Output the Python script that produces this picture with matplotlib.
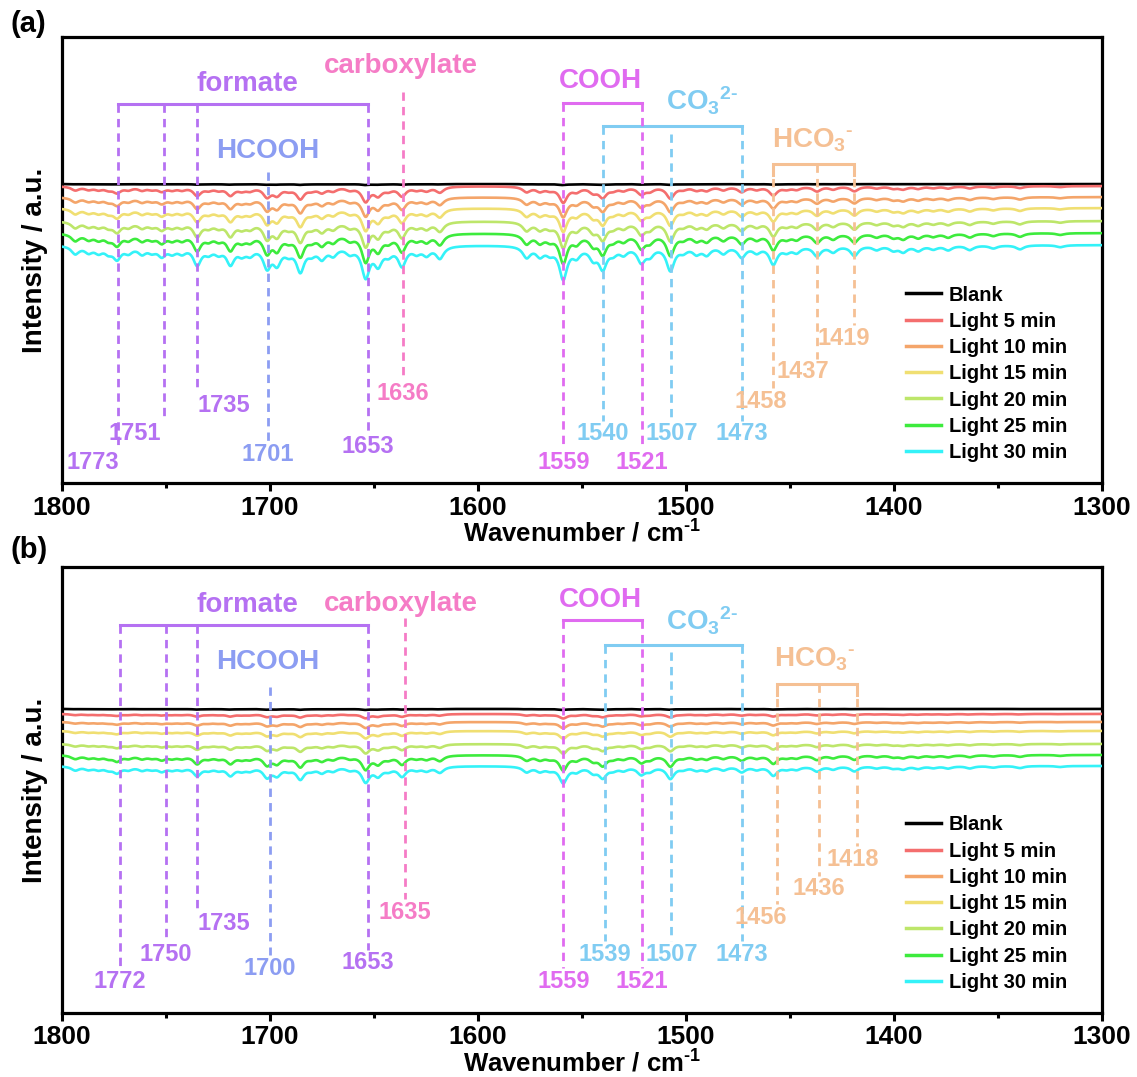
import numpy as np
import matplotlib.pyplot as plt
from matplotlib.ticker import MultipleLocator

plt.rcParams['font.family'] = ['Liberation Sans', 'DejaVu Sans']
plt.rcParams['font.weight'] = 'bold'
plt.rcParams['axes.labelweight'] = 'bold'
plt.rcParams['mathtext.fontset'] = 'custom'
plt.rcParams['mathtext.rm'] = 'Liberation Sans:bold'
plt.rcParams['mathtext.it'] = 'Liberation Sans:bold'
plt.rcParams['mathtext.bf'] = 'Liberation Sans:bold'

series = ['Blank', 'Light 5 min', 'Light 10 min', 'Light 15 min',
          'Light 20 min', 'Light 25 min', 'Light 30 min']
series_colors = ['#000000', '#F46E6E', '#F4A56A', '#F0DF72',
                 '#BDE66A', '#3DEB3D', '#34F2F8']

peak_pos = [1793.6, 1787.2, 1782.4, 1777.6, 1773.5, 1768.0, 1761.5, 1756.7,
            1752.0, 1747.0, 1742.3, 1735.0, 1729.5, 1724.7, 1719.0, 1713.5,
            1709.5, 1701.4, 1696.6, 1691.0, 1685.4, 1680.0, 1675.0, 1669.6,
            1661.6, 1654.0, 1648.0, 1643.0, 1636.5, 1629.5, 1624.7, 1618.3,
            1576.6, 1570.2, 1565.4, 1559.0, 1552.6, 1544.6, 1540.0, 1535.0,
            1530.0, 1521.5, 1517.3, 1507.5, 1501.3, 1494.9, 1490.0, 1482.0,
            1473.2, 1466.0, 1458.0, 1451.6, 1446.8, 1437.0, 1429.2, 1419.0,
            1408.3, 1400.3, 1395.5, 1388.3, 1381.0, 1373.9, 1363.5, 1352.2,
            1339.4, 1320.0]
peak_depth = [0.08, 0.06, 0.06, 0.06, 0.12, 0.06, 0.07, 0.05,
              0.09, 0.06, 0.06, 0.18, 0.06, 0.06, 0.17, 0.07,
              0.07, 0.20, 0.16, 0.06, 0.24, 0.06, 0.11, 0.08,
              0.06, 0.30, 0.17, 0.07, 0.19, 0.06, 0.08, 0.12,
              0.11, 0.09, 0.06, 0.32, 0.09, 0.11, 0.21, 0.06,
              0.07, 0.15, 0.08, 0.24, 0.05, 0.07, 0.08, 0.07,
              0.11, 0.06, 0.18, 0.05, 0.06, 0.10, 0.06, 0.10,
              0.04, 0.045, 0.06, 0.05, 0.035, 0.045, 0.045, 0.03,
              0.04, 0.02]
peak_hwhm = 2.3

# how strongly each trace shows the dips, and its vertical offset below Blank
depth_a = [0.03, 0.48, 0.58, 0.68, 0.78, 0.88, 1.0]
offset_a = [0.0, 0.02, 0.13, 0.24, 0.37, 0.49, 0.61]
depth_b = [0.03, 0.13, 0.18, 0.22, 0.28, 0.45, 0.50]
offset_b = [0.0, 0.05, 0.13, 0.22, 0.35, 0.46, 0.57]

# assigned bands
bands_a = [1773, 1751, 1735, 1653, 1701, 1636, 1559, 1521, 1540, 1507, 1473, 1458, 1437, 1419]
bands_b = [1772, 1750, 1735, 1653, 1700, 1635, 1559, 1521, 1539, 1507, 1473, 1456, 1436, 1418]
band_group = ['formate', 'formate', 'formate', 'formate', 'HCOOH', 'carboxylate',
              'COOH', 'COOH', 'CO3', 'CO3', 'CO3', 'HCO3', 'HCO3', 'HCO3']

group_names = ['formate', 'carboxylate', 'HCOOH', 'COOH', 'CO3', 'HCO3']
group_text = ['formate', 'carboxylate', 'HCOOH', 'COOH',
              'CO$_3$$^{2\u2010}$', 'HCO$_3$$^{\u2010}$']
group_colors = {'formate': '#B571F2', 'carboxylate': '#F57CC6', 'HCOOH': '#8C9DF2',
                'COOH': '#E06BF0', 'CO3': '#80CCF2', 'HCO3': '#F5C094'}

# layout of the annotation (axes fraction / cm-1 shifts)
layout = {
    'a': dict(
        label_y=[0.047, 0.110, 0.173, 0.083, 0.065, 0.200, 0.047, 0.047,
                 0.110, 0.110, 0.110, 0.182, 0.249, 0.325],
        label_dx=[12, 14, -13, 0, 0, 0, 0, 0, 0, 0, 0, 6, 7, 5],
        line_top=[0.850, 0.850, 0.850, 0.850, 0.697, 0.877, 0.852, 0.852,
                  0.800, 0.783, 0.800, 0.715, 0.715, 0.715],
        group_x=[1711, 1637, 1701, 1541, 1492, 1439],
        group_y=[0.894, 0.935, 0.744, 0.902, 0.857, 0.768],
        bracket={'formate': (1773, 1653, 0.850), 'COOH': (1559, 1521, 0.852),
                 'CO3': (1540, 1473, 0.800), 'HCO3': (1458, 1419, 0.715)},
    ),
    'b': dict(
        label_y=[0.070, 0.132, 0.200, 0.112, 0.099, 0.226, 0.070, 0.070,
                 0.132, 0.132, 0.132, 0.215, 0.278, 0.345],
        label_dx=[0, 0, -13, 0, 0, 0, 0, 0, 0, 0, 0, 8, 0, 2],
        line_top=[0.870, 0.870, 0.870, 0.870, 0.730, 0.885, 0.881, 0.881,
                  0.825, 0.810, 0.825, 0.738, 0.738, 0.738],
        group_x=[1711, 1637, 1701, 1541, 1492, 1438],
        group_y=[0.915, 0.918, 0.787, 0.925, 0.878, 0.792],
        bracket={'formate': (1772, 1653, 0.870), 'COOH': (1559, 1521, 0.881),
                 'CO3': (1539, 1473, 0.825), 'HCO3': (1456, 1418, 0.738)},
    ),
}

wn = np.arange(1300, 1800.01, 0.25)
dips = np.zeros_like(wn)
for c, d in zip(peak_pos, peak_depth):
    dips -= d * peak_hwhm**2 / ((wn - c)**2 + peak_hwhm**2)

fig = plt.figure(figsize=(11.37, 10.77), dpi=100)
ax_a = fig.add_axes([0.0545, 0.5515, 0.9147, 0.4141])
ax_b = fig.add_axes([0.0545, 0.0595, 0.9147, 0.4141])


def draw_panel(ax, key, depth, offset, bands, ylim):
    lay = layout[key]
    for name, col, k, off in zip(series, series_colors, depth, offset):
        ax.plot(wn, k * dips - off, color=col, lw=1.9, label=name, zorder=3)
    ax.set_xlim(1800, 1300)
    ax.set_ylim(*ylim)
    tr = ax.get_xaxis_transform()
    for i, (b, g) in enumerate(zip(bands, band_group)):
        col = group_colors[g]
        ax.plot([b, b], [lay['line_top'][i], lay['label_y'][i] + 0.03], transform=tr,
                color=col, lw=2.0, dashes=(3, 2.2), zorder=5)
        ax.text(b + lay['label_dx'][i], lay['label_y'][i], str(b), transform=tr,
                color=col, fontsize=17, ha='center', va='center', zorder=6)
    for g, txt, gx, gy in zip(group_names, group_text, lay['group_x'], lay['group_y']):
        ax.text(gx, gy, txt, transform=tr, color=group_colors[g], fontsize=20,
                ha='center', va='center')
    for g, (x0, x1, y) in lay['bracket'].items():
        col = group_colors[g]
        if g == 'HCO3':
            ax.plot([x0, x0, x1, x1], [y - 0.025, y, y, y - 0.025], transform=tr,
                    color=col, lw=2.2, solid_joinstyle='miter')
        else:
            ax.plot([x0, x1], [y, y], transform=tr, color=col, lw=2.2)
    ax.xaxis.set_major_locator(MultipleLocator(100))
    ax.xaxis.set_minor_locator(MultipleLocator(50))
    ax.tick_params(axis='x', which='major', direction='out', length=6, width=2.2,
                   labelsize=19, pad=3)
    ax.tick_params(axis='x', which='minor', direction='out', length=3.5, width=2.2)
    ax.set_yticks([])
    for s in ax.spines.values():
        s.set_linewidth(2.3)
    ax.set_xlabel('Wavenumber / cm$^{\u2010 1}$', fontsize=18.5, labelpad=0)
    ax.set_ylabel('Intensity / a.u.', fontsize=20, labelpad=10)
    leg = ax.legend(loc='lower right', bbox_to_anchor=(0.978, 0.02), frameon=False,
                    fontsize=14.5, handlelength=1.7, handletextpad=0.4,
                    labelspacing=0.36, borderaxespad=0.2)
    for h in leg.get_lines():
        h.set_linewidth(2.5)


draw_panel(ax_a, 'a', depth_a, offset_a, bands_a, (-2.99, 1.47))
draw_panel(ax_b, 'b', depth_b, offset_b, bands_b, (-3.04, 1.42))

fig.text(0.009, 0.978, '(a)', fontsize=21, va='center')
fig.text(0.009, 0.489, '(b)', fontsize=21, va='center')

fig.savefig('out.png', dpi=100)
